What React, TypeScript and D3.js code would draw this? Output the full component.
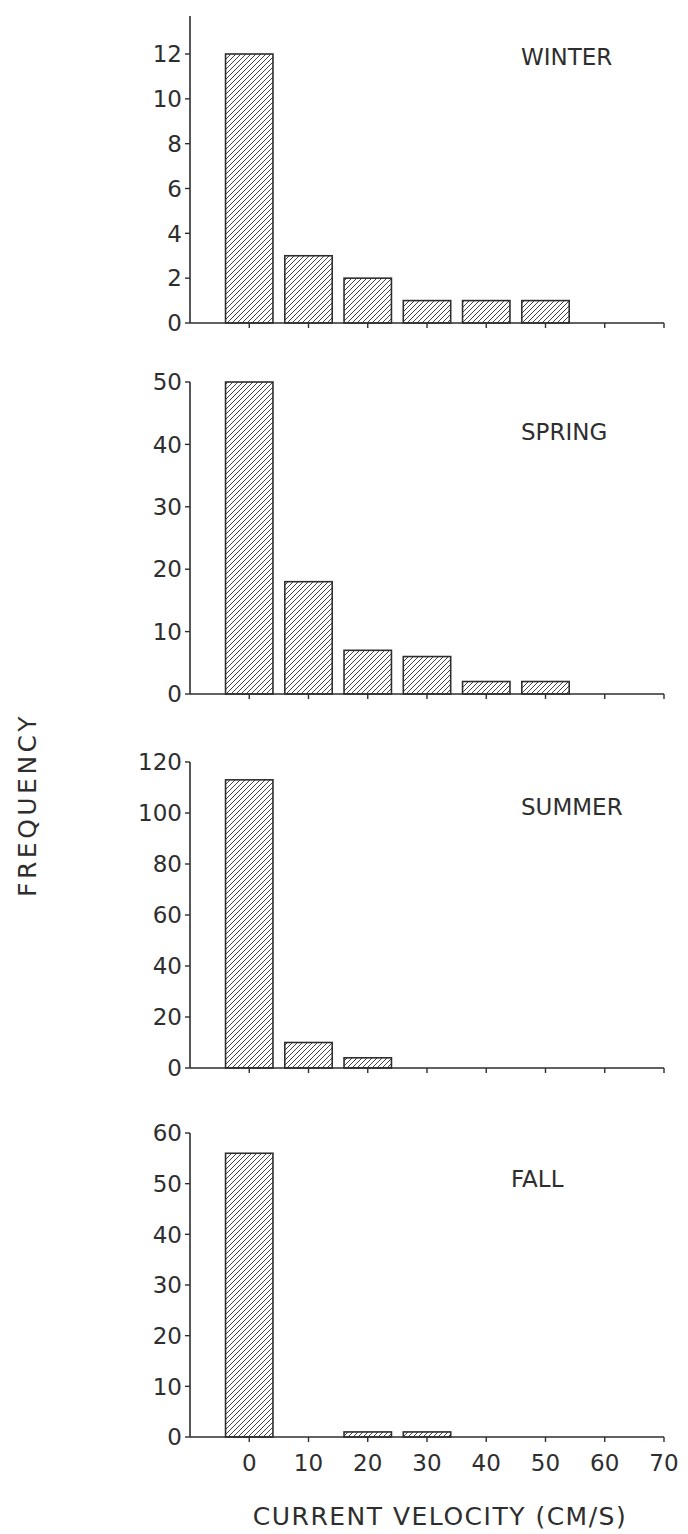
import React from "react";
import * as d3 from "d3";

const velocities = [0, 10, 20, 30, 40, 50, 60, 70];
const xTickLabels = ["0", "10", "20", "30", "40", "50", "60", "70"];
const seasons = ["WINTER", "SPRING", "SUMMER", "FALL"];
const winter = [12, 3, 2, 1, 1, 1, 0, 0];
const spring = [50, 18, 7, 6, 2, 2, 0, 0];
const summer = [113, 10, 4, 0, 0, 0, 0, 0];
const fall = [56, 0, 1, 1, 0, 0, 0, 0];
const winterTicks = [0, 2, 4, 6, 8, 10, 12];
const springTicks = [0, 10, 20, 30, 40, 50];
const summerTicks = [0, 20, 40, 60, 80, 100, 120];
const fallTicks = [0, 10, 20, 30, 40, 50, 60];

const W = 688;
const H = 1534;
const FONT = "'DejaVu Sans', sans-serif";
const INK = "#2e2e2e";

const x = d3.scaleLinear().domain([-10, 70]).range([190, 664]);

type Panel = {
  name: string;
  values: number[];
  ticks: number[];
  zeroY: number;
  topVal: number;
  topY: number;
  axisTop: number;
  labelX: number;
  labelY: number;
};

const panels: Panel[] = [
  { name: seasons[0], values: winter, ticks: winterTicks, zeroY: 323, topVal: 12, topY: 54, axisTop: 13.7, labelX: 521, labelY: 65 },
  { name: seasons[1], values: spring, ticks: springTicks, zeroY: 694, topVal: 50, topY: 382, axisTop: 50, labelX: 521, labelY: 440 },
  { name: seasons[2], values: summer, ticks: summerTicks, zeroY: 1068, topVal: 120, topY: 762, axisTop: 120, labelX: 521, labelY: 815 },
  { name: seasons[3], values: fall, ticks: fallTicks, zeroY: 1437, topVal: 60, topY: 1133, axisTop: 60, labelX: 511, labelY: 1187 },
];

export default function App() {
  const halfW = 4;
  return (
    <svg
      width={W}
      height={H}
      viewBox={`0 0 ${W} ${H}`}
      style={{ position: "absolute", left: 0, top: 0, display: "block", background: "#fff" }}
    >
      <defs>
        <pattern id="hatch" patternUnits="userSpaceOnUse" width={5} height={5}>
          <rect width={5} height={5} fill="#fff" />
          <path
            d="M0,5 L5,0 M-1.25,1.25 L1.25,-1.25 M3.75,6.25 L6.25,3.75"
            stroke={INK}
            strokeWidth={0.9}
          />
        </pattern>
      </defs>
      {panels.map((p, pi) => {
        const y = d3.scaleLinear().domain([0, p.topVal]).range([p.zeroY, p.topY]);
        return (
          <g key={p.name}>
            {p.values.map((v, i) =>
              v > 0 ? (
                <rect
                  key={i}
                  x={x(velocities[i] - halfW)}
                  y={y(v)}
                  width={x(velocities[i] + halfW) - x(velocities[i] - halfW)}
                  height={y(0) - y(v)}
                  fill="url(#hatch)"
                  stroke={INK}
                  strokeWidth={1.6}
                />
              ) : null
            )}
            {/* y axis */}
            <line x1={x(-10)} x2={x(-10)} y1={y(0)} y2={y(p.axisTop)} stroke={INK} strokeWidth={1.6} />
            {p.ticks.map((t) => (
              <g key={t}>
                <line x1={x(-10) - 5} x2={x(-10)} y1={y(t)} y2={y(t)} stroke={INK} strokeWidth={1.4} />
                <text
                  x={x(-10) - 8}
                  y={y(t)}
                  dy="0.36em"
                  textAnchor="end"
                  fontFamily={FONT}
                  fontSize={23}
                  fill={INK}
                >
                  {t}
                </text>
              </g>
            ))}
            {/* x axis */}
            <line x1={x(-10)} x2={x(70)} y1={y(0)} y2={y(0)} stroke={INK} strokeWidth={1.6} />
            {velocities.map((v) => (
              <line key={v} x1={x(v)} x2={x(v)} y1={y(0)} y2={y(0) + 5} stroke={INK} strokeWidth={1.4} />
            ))}
            <text x={p.labelX} y={p.labelY} fontFamily={FONT} fontSize={23} fill={INK}>
              {p.name}
            </text>
            {pi === panels.length - 1 &&
              velocities.map((v, i) => (
                <text
                  key={v}
                  x={x(v)}
                  y={1471}
                  textAnchor="middle"
                  fontFamily={FONT}
                  fontSize={23}
                  fill={INK}
                >
                  {xTickLabels[i]}
                </text>
              ))}
          </g>
        );
      })}
      <text
        x={440}
        y={1525}
        textAnchor="middle"
        fontFamily={FONT}
        fontSize={25}
        letterSpacing={1.5}
        fill={INK}
      >
        CURRENT VELOCITY (CM/S)
      </text>
      <text
        transform="translate(36,805) rotate(-90)"
        textAnchor="middle"
        fontFamily={FONT}
        fontSize={25}
        letterSpacing={3.5}
        fill={INK}
      >
        FREQUENCY
      </text>
    </svg>
  );
}
